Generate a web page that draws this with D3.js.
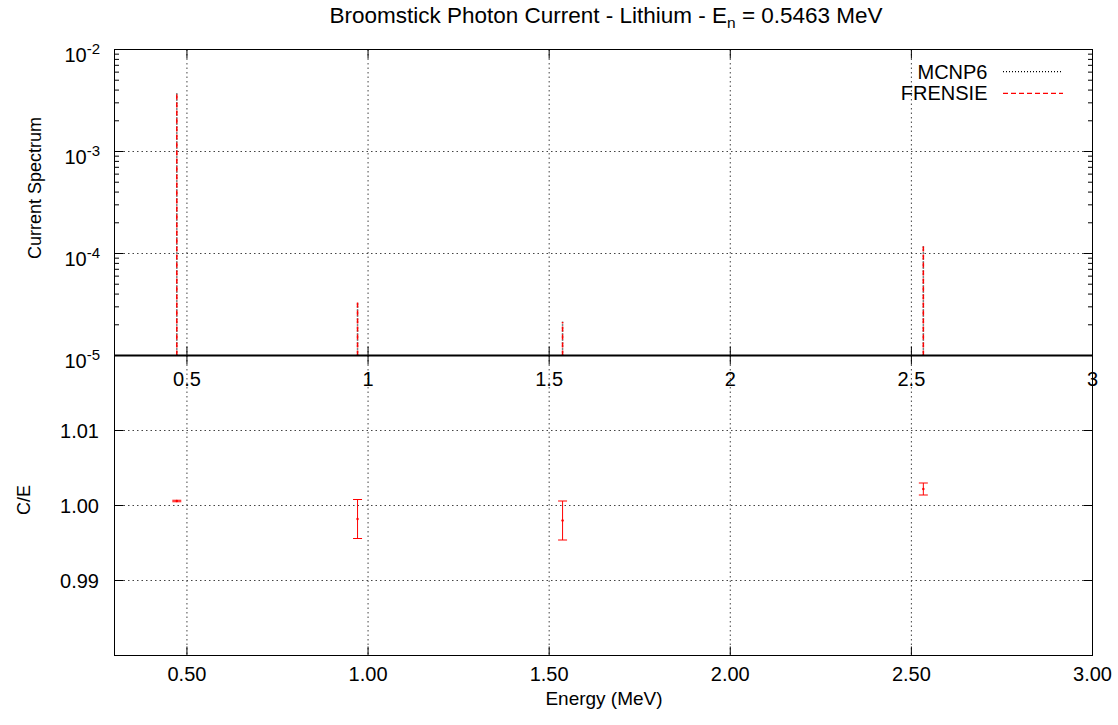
<!DOCTYPE html>
<html>
<head>
<meta charset="utf-8">
<script src="https://cdn.jsdelivr.net/npm/d3@7"></script>
<style>
  html, body { margin: 0; padding: 0; background: #fff; }
  svg { display: block; }
  text { font-family: "Liberation Sans", Arial, Helvetica, sans-serif; fill: #000; }
</style>
</head>
<body>
<svg id="chart" width="1118" height="725"></svg>
<script>
// Photon line energies (MeV)
const energies = [0.472, 0.971, 1.537, 2.533];
// Current spectrum, MCNP6 reference
const mcnpValues = [3.72e-3, 3.37e-5, 2.14e-5, 1.19e-4];
// Current spectrum, FRENSIE
const frensieValues = [3.722e-3, 3.364e-5, 2.136e-5, 1.193e-4];
// C/E ratio and its uncertainty
const ratioValues = [1.0006, 0.9982, 0.9980, 1.0022];
const ratioErrors = [0.0001, 0.0026, 0.0026, 0.0008];

// Tick values and labels
const xTicks = [0.5, 1, 1.5, 2, 2.5, 3];
const xTopLabels = ["0.5", "1", "1.5", "2", "2.5", "3"];
const xBottomLabels = ["0.50", "1.00", "1.50", "2.00", "2.50", "3.00"];
const yTopTicks = [1e-5, 1e-4, 1e-3, 1e-2];
const yTopExponents = ["-5", "-4", "-3", "-2"];
const yBottomTicks = [0.99, 1.00, 1.01];
const yBottomLabels = ["0.99", "1.00", "1.01"];

const svg = d3.select("#chart");

const left = 114.5, right = 1092.5;
const topY0 = 49.5, topY1 = 355.5, botY1 = 655.5;

const x = d3.scaleLinear().domain([0.3, 3]).range([left, right]);
const yTop = d3.scaleLog().domain([1e-5, 1e-2]).range([topY1, topY0]);
const yBot = d3.scaleLinear().domain([0.98, 1.02]).range([botY1, topY1]);

const gridStyle = g => g.attr("stroke", "#444").attr("stroke-width", 1)
  .attr("stroke-dasharray", "1.5,3").attr("fill", "none");

// ---- grid lines ----
const grid = svg.append("g");
xTicks.filter(t => t < 3).forEach(t => {
  grid.append("line").attr("x1", x(t)).attr("x2", x(t))
    .attr("y1", topY0).attr("y2", topY1).call(gridStyle);
  grid.append("line").attr("x1", x(t)).attr("x2", x(t))
    .attr("y1", topY1).attr("y2", botY1).call(gridStyle);
});
[1e-4, 1e-3].forEach(v => {
  grid.append("line").attr("x1", left).attr("x2", right)
    .attr("y1", yTop(v)).attr("y2", yTop(v)).call(gridStyle);
});
yBottomTicks.forEach(v => {
  grid.append("line").attr("x1", left).attr("x2", right)
    .attr("y1", yBot(v)).attr("y2", yBot(v)).call(gridStyle);
});

// ---- tick marks ----
const ticks = svg.append("g").attr("stroke", "#000").attr("stroke-width", 1);
const major = 9, minor = 4.5;
// x ticks on all horizontal frame edges (pointing inward)
xTicks.forEach(t => {
  const px = x(t);
  ticks.append("line").attr("x1", px).attr("x2", px).attr("y1", topY0).attr("y2", topY0 + major);
  ticks.append("line").attr("x1", px).attr("x2", px).attr("y1", topY1).attr("y2", topY1 - major);
  ticks.append("line").attr("x1", px).attr("x2", px).attr("y1", topY1).attr("y2", topY1 + major);
  ticks.append("line").attr("x1", px).attr("x2", px).attr("y1", botY1).attr("y2", botY1 - major);
});
// log y ticks (upper panel)
for (let e = -5; e < -2; e++) {
  for (let m = 1; m <= 9; m++) {
    const v = m * Math.pow(10, e);
    const py = yTop(v);
    const len = m === 1 ? major : minor;
    ticks.append("line").attr("x1", left).attr("x2", left + len).attr("y1", py).attr("y2", py);
    ticks.append("line").attr("x1", right).attr("x2", right - len).attr("y1", py).attr("y2", py);
  }
}
// linear y ticks (lower panel)
yBottomTicks.forEach(v => {
  const py = yBot(v);
  ticks.append("line").attr("x1", left).attr("x2", left + major).attr("y1", py).attr("y2", py);
  ticks.append("line").attr("x1", right).attr("x2", right - major).attr("y1", py).attr("y2", py);
});

// ---- spectrum impulses ----
const impulses = svg.append("g");
energies.forEach((e, i) => {
  impulses.append("line")
    .attr("x1", x(e)).attr("x2", x(e))
    .attr("y1", yTop(1e-5)).attr("y2", yTop(mcnpValues[i]))
    .attr("stroke", "#000").attr("stroke-width", 1.5).attr("stroke-dasharray", "1,2");
  impulses.append("line")
    .attr("x1", x(e)).attr("x2", x(e))
    .attr("y1", yTop(1e-5)).attr("y2", yTop(frensieValues[i]))
    .attr("stroke", "#ff0000").attr("stroke-width", 1.5).attr("stroke-dasharray", "5,3");
});

// ---- C/E error bars ----
const bars = svg.append("g").attr("stroke", "#ff0000").attr("stroke-width", 1);
energies.forEach((e, i) => {
  const px = x(e);
  const lo = yBot(ratioValues[i] - ratioErrors[i]);
  const hi = yBot(ratioValues[i] + ratioErrors[i]);
  bars.append("line").attr("x1", px).attr("x2", px).attr("y1", lo).attr("y2", hi);
  bars.append("line").attr("x1", px - 4.5).attr("x2", px + 4.5).attr("y1", lo).attr("y2", lo);
  bars.append("line").attr("x1", px - 4.5).attr("x2", px + 4.5).attr("y1", hi).attr("y2", hi);
  svg.append("circle").attr("cx", px).attr("cy", yBot(ratioValues[i])).attr("r", 1.2)
    .attr("fill", "#ff0000");
});

// ---- frames ----
svg.append("rect").attr("x", left).attr("y", topY0).attr("width", right - left)
  .attr("height", topY1 - topY0).attr("fill", "none").attr("stroke", "#000").attr("stroke-width", 1);
svg.append("rect").attr("x", left).attr("y", topY1).attr("width", right - left)
  .attr("height", botY1 - topY1).attr("fill", "none").attr("stroke", "#000").attr("stroke-width", 1);
svg.append("line").attr("x1", left).attr("x2", right).attr("y1", topY1).attr("y2", topY1)
  .attr("stroke", "#000").attr("stroke-width", 2.2);

// ---- tick labels ----
const fs = 20;
xTicks.forEach((t, i) => {
  svg.append("text").attr("x", x(t)).attr("y", 386).attr("text-anchor", "middle")
    .attr("font-size", fs).text(xTopLabels[i]);
  svg.append("text").attr("x", x(t)).attr("y", 681).attr("text-anchor", "middle")
    .attr("font-size", fs).text(xBottomLabels[i]);
});
yTopTicks.forEach((v, i) => {
  const t = svg.append("text").attr("x", 100).attr("y", yTop(v) + 12)
    .attr("text-anchor", "end").attr("font-size", fs);
  t.append("tspan").text("10");
  t.append("tspan").attr("dy", -8).attr("font-size", 15).text(yTopExponents[i]);
});
yBottomTicks.forEach((v, i) => {
  svg.append("text").attr("x", 99).attr("y", yBot(v) + 7.5).attr("text-anchor", "end")
    .attr("font-size", fs).text(yBottomLabels[i]);
});

// ---- axis titles ----
svg.append("text").attr("transform", `translate(41,188) rotate(-90)`)
  .attr("text-anchor", "middle").attr("font-size", 18).text("Current Spectrum");
svg.append("text").attr("transform", `translate(30,500) rotate(-90)`)
  .attr("text-anchor", "middle").attr("font-size", 18).text("C/E");
svg.append("text").attr("x", 604).attr("y", 705).attr("text-anchor", "middle")
  .attr("font-size", 19).text("Energy (MeV)");

// ---- title ----
const title = svg.append("text").attr("x", 606).attr("y", 22.5)
  .attr("text-anchor", "middle").attr("font-size", 22.5);
title.append("tspan").text("Broomstick Photon Current - Lithium - E");
title.append("tspan").attr("dy", 5).attr("font-size", 15.5).text("n");
title.append("tspan").attr("dy", -5).text(" = 0.5463 MeV");

// ---- legend ----
const legend = [
  { name: "MCNP6", color: "#000", dash: "1,2", y: 71.7 },
  { name: "FRENSIE", color: "#ff0000", dash: "5,3", y: 93.3 }
];
legend.forEach(d => {
  svg.append("text").attr("x", 987.5).attr("y", d.y + 7).attr("text-anchor", "end")
    .attr("font-size", fs).text(d.name);
  svg.append("line").attr("x1", 1003).attr("x2", 1063).attr("y1", d.y).attr("y2", d.y)
    .attr("stroke", d.color).attr("stroke-width", 1.2).attr("stroke-dasharray", d.dash);
});
</script>
</body>
</html>
